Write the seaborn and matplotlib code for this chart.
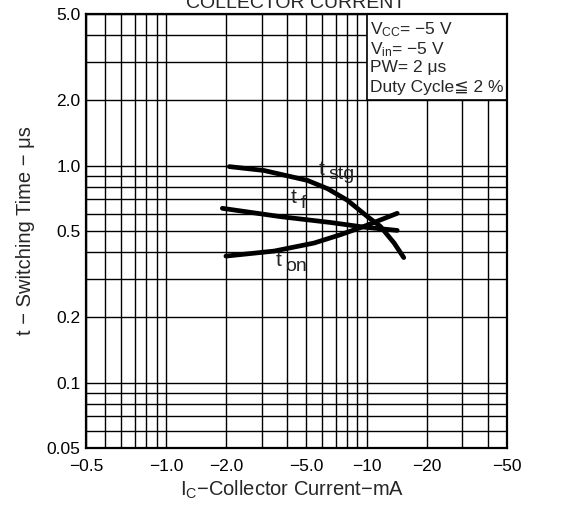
import numpy as np
import pandas as pd
import matplotlib
matplotlib.use('Agg')
import matplotlib.pyplot as plt
import matplotlib.ticker as mticker
from matplotlib.patches import Rectangle
import seaborn as sns

# data (|Ic| in mA, t in us)
tstg_ic = [2.07, 3.08, 5.07, 6.37, 8.01, 10.1, 11.7, 13.7, 15.3]
tstg_t = [0.99, 0.95, 0.855, 0.784, 0.693, 0.582, 0.525, 0.44, 0.377]
tf_ic = [1.91, 3.73, 6.62, 9.7, 14.2]
tf_t = [0.636, 0.582, 0.547, 0.521, 0.503]
ton_ic = [1.99, 3.46, 5.47, 7.42, 9.7, 11.7, 14.2]
ton_t = [0.383, 0.404, 0.44, 0.481, 0.525, 0.562, 0.603]

x_ticks = [0.4, 1, 2, 5, 10, 20, 50]
x_labels = ['\u22120.5', '\u22121.0', '\u22122.0', '\u22125.0', '\u221210', '\u221220', '\u221250']
y_ticks = [0.05, 0.1, 0.2, 0.5, 1.0, 2.0, 5.0]
y_labels = ['0.05', '0.1', '0.2', '0.5', '1.0', '2.0', '5.0']

conditions = ['$\\mathregular{V_{CC}}$= \u22125 V',
              '$\\mathregular{V_{in}}$= \u22125 V',
              'PW= 2 \u03bcs',
              'Duty Cycle\u2266 2 %']

# curve name, subscript, position of the "t"
curve_labels = [('stg', 5.77, 0.91), ('f', 4.19, 0.675), ('on', 3.53, 0.345)]

sns.set_style('white')
plt.rcParams['font.family'] = ['Liberation Sans', 'DejaVu Sans']
plt.rcParams['mathtext.fontset'] = 'custom'
plt.rcParams['mathtext.rm'] = 'Liberation Sans'

fig = plt.figure(figsize=(5.67, 5.05), dpi=100)
ax = fig.add_axes([0.1517, 0.1129, 0.7425, 0.8594])

df = pd.concat([
    pd.DataFrame({'ic': tstg_ic, 't': tstg_t, 'curve': 'tstg'}),
    pd.DataFrame({'ic': tf_ic, 't': tf_t, 'curve': 'tf'}),
    pd.DataFrame({'ic': ton_ic, 't': ton_t, 'curve': 'ton'}),
])
sns.lineplot(data=df, x='ic', y='t', units='curve', estimator=None, sort=False,
             color='black', lw=3.4, ax=ax, zorder=3, legend=False)

ax.set_xscale('log')
ax.set_yscale('log')
ax.set_xlim(0.4, 50)
ax.set_ylim(0.05, 5.0)
ax.set_xticks(x_ticks)
ax.set_xticklabels(x_labels)
ax.set_yticks(y_ticks)
ax.set_yticklabels(y_labels)
ax.xaxis.set_minor_locator(mticker.LogLocator(subs=np.arange(2, 10)))
ax.yaxis.set_minor_locator(mticker.LogLocator(subs=np.arange(2, 10)))
ax.xaxis.set_minor_formatter(mticker.NullFormatter())
ax.yaxis.set_minor_formatter(mticker.NullFormatter())
ax.tick_params(which='both', length=0, labelsize=12.5, colors='black')
ax.tick_params(axis='x', pad=8)
ax.tick_params(axis='y', pad=4)
ax.set_axisbelow(True)
ax.grid(which='both', color='black', lw=1.0)
for s in ax.spines.values():
    s.set_color('black')
    s.set_linewidth(1.6)

# conditions box in the upper right
ax.add_patch(Rectangle((10, 2), 40, 3, facecolor='white', edgecolor='black',
                       lw=1.2, zorder=2))
for i, line in enumerate(conditions):
    ax.text(0.675, 0.985 - i * 0.046, line, transform=ax.transAxes,
            fontsize=12.5, va='top', ha='left', zorder=4)

# curve labels: big "t" with a nearly full size subscript
for sub, xi, yi in curve_labels:
    ax.text(xi, yi, 't', fontsize=15, ha='left', va='baseline', zorder=4)
    ax.annotate(sub, xy=(xi, yi), xytext=(7, -3.5), textcoords='offset points',
                fontsize=14, ha='left', va='baseline', zorder=4)

ax.set_xlabel('$\\mathregular{I_C}$\u2212Collector Current\u2212mA', fontsize=14.5)
ax.set_ylabel('t \u2212 Switching Time \u2212 \u03bcs', fontsize=14.5)
ax.xaxis.set_label_coords(0.49, -0.07)
ax.yaxis.set_label_coords(-0.122, 0.5)

fig.text(0.522, 0.984, 'COLLECTOR CURRENT', fontsize=14, ha='center', va='baseline')

fig.savefig('out.png', dpi=100)
